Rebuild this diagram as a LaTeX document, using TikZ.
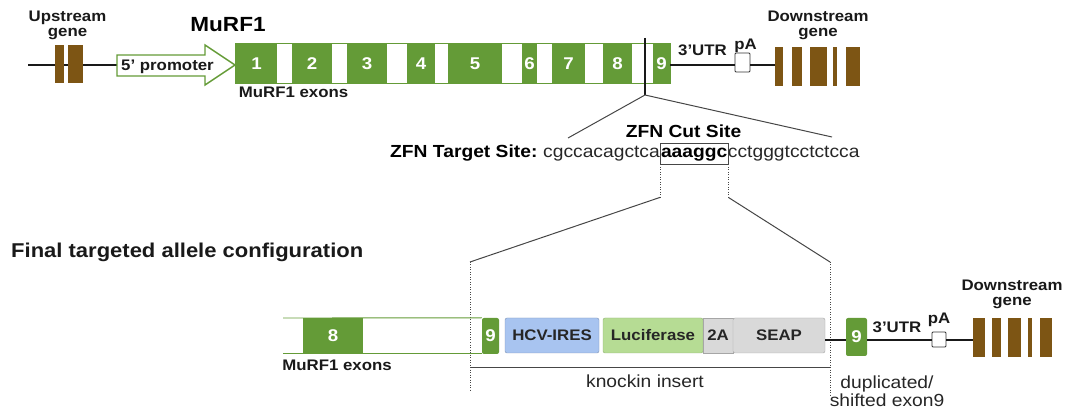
\documentclass[tikz,border=0pt]{standalone}
\usepackage{fontspec}
\setmainfont[FakeStretch=1.1]{Liberation Sans}
\definecolor{exg}{RGB}{100,155,55}
\definecolor{brn}{RGB}{125,85,20}
\definecolor{ires}{RGB}{168,196,240}
\definecolor{luc}{RGB}{182,220,148}
\definecolor{gry}{RGB}{217,217,217}
\definecolor{lin}{RGB}{70,70,70}
\begin{document}
\begin{tikzpicture}[x=1pt,y=-1pt,
  exon/.style={fill=exg, draw=none, inner sep=0, text=white, font=\bfseries\fontsize{17}{19}\selectfont},
  bexon/.style={fill=brn, draw=none, inner sep=0},
  lbl/.style={font=\bfseries\fontsize{15.3}{15}\selectfont, inner sep=0, text=black!90},
  reg/.style={font=\fontsize{17.5}{18}\selectfont, inner sep=0, text=black!85},
  seqb/.style={font=\bfseries\fontsize{17.5}{18}\selectfont, inner sep=0},
  seq/.style={font=\fontsize{17.5}{18}\selectfont, inner sep=0, text=black!85},
  insbox/.style={rounded corners=2pt, inner sep=0, font=\bfseries\fontsize{15.3}{16}\selectfont, text=black!85, minimum height=35},
  pabox/.style={draw=black!80, fill=white, line width=0.9, inner sep=0, rounded corners=1pt},
  dna/.style={draw=black!90, line width=1.4},
  diag/.style={draw=lin, line width=1},
  dots/.style={draw=lin, line width=0.9, dash pattern=on 1pt off 1.5pt},
  gline/.style={draw=exg, line width=0.9}]
\useasboundingbox (0,0) rectangle (1065,411);

% ---------- top row ----------
\coordinate (tl) at (28,65);
\coordinate (ptail) at (117,65);
\draw[dna] (tl) -- (ptail);
\node[bexon, minimum width=9, minimum height=38] (u1) at (59.5,64) {};
\node[bexon, minimum width=15, minimum height=38] (u2) at (75.5,64) {};
\node[lbl, align=center, anchor=north] (upl) at (67.5,11) {Upstream\\gene};

% promoter arrow
\draw[draw=exg, fill=white, line width=1.4] (117,55) -- (205,55) -- (205,45) -- (235,65) -- (205,85) -- (205,76) -- (117,76) -- cycle;
\node[lbl, anchor=base] (prom) at (167.5,70.5) {5' promoter};
\node[font=\bfseries\fontsize{20.5}{22}\selectfont, inner sep=0, anchor=base] (title) at (228,32) {MuRF1};

% exons
\node[exon, minimum width=41, minimum height=39] (e1) at (256.5,63.5) {1};
\node[exon, minimum width=40, minimum height=39] (e2) at (312,63.5) {2};
\node[exon, minimum width=40, minimum height=39] (e3) at (367,63.5) {3};
\node[exon, minimum width=28, minimum height=39] (e4) at (421,63.5) {4};
\node[exon, minimum width=54, minimum height=39] (e5) at (475,63.5) {5};
\node[exon, minimum width=15, minimum height=39] (e6) at (529.5,63.5) {6};
\node[exon, minimum width=33, minimum height=39] (e7) at (568.5,63.5) {7};
\node[exon, minimum width=29, minimum height=39] (e8) at (617.5,63.5) {8};
\node[exon, minimum width=17, minimum height=39] (e9) at (661.5,63.5) {9};
\draw[gline] (e1.north west) rectangle (e9.south east);
\node[lbl, anchor=base] (mex) at (293.5,97.5) {MuRF1 exons};

% 3' side
\node[pabox, minimum width=15, minimum height=19] (pa) at (742.5,62.5) {};
\node[bexon, minimum width=8, minimum height=39] (d1) at (779,66.5) {};
\node[bexon, minimum width=10, minimum height=39] (d2) at (797,66.5) {};
\node[bexon, minimum width=17, minimum height=39] (d3) at (818.5,66.5) {};
\node[bexon, minimum width=4, minimum height=39] (d4) at (835,66.5) {};
\node[bexon, minimum width=14, minimum height=39] (d5) at (853,66.5) {};
\draw[dna] (e9.east |- 0,65) -- (pa.west |- 0,65);
\draw[dna] (pa.east |- 0,65) -- (d1.west |- 0,65);
\node[lbl, anchor=base] (utr) at (702.5,55.5) {3'UTR};
\node[lbl, anchor=base] (pal) at (745.5,49.5) {pA};
\node[lbl, align=center, anchor=north] (dnl) at (818,11) {Downstream\\gene};

% cut site
\coordinate (ctop) at (645,38);
\coordinate (cbot) at (645,95);
\coordinate (zl) at (568,138);
\coordinate (zr) at (832,137);
\draw[dna, line width=1.2] (ctop) -- (cbot);
\draw[diag] (cbot) -- (zl);
\draw[diag] (cbot) -- (zr);

\node[seqb, anchor=base] (cuts) at (683.5,137.5) {ZFN Cut Site};
\node[seqb, anchor=base west] (zt) at (390,157.5) {ZFN Target Site:};
\node[seq, anchor=base west] (s1) at (zt.base east) {\ cgccacagctca};
\node[seqb, anchor=base west, draw=lin, line width=0.8, inner xsep=0.6pt, inner ysep=2.5pt, text height=12pt, text depth=4pt] (cut) at (s1.base east) {aaaggc};
\node[seq, anchor=base west] (s3) at ([xshift=-0.6pt]cut.base east) {cctgggtcctctcca};

\draw[dots] (cut.south west) -- ++(0,33) coordinate (dl);
\draw[dots] (cut.south east) -- ++(0,33) coordinate (dr);
\coordinate (bl) at (470,262);
\coordinate (br) at (830,262);
\draw[diag] (dl) -- (bl);
\draw[diag] (dr) -- (br);
\coordinate (blb) at (470,390);
\coordinate (brb) at (830,395);
\draw[dots] (bl) -- (blb);
\draw[dots] (br) -- (brb);

\node[font=\bfseries\fontsize{20}{22}\selectfont, inner sep=0, anchor=base west, text=black!90] (final) at (11,258) {Final targeted allele configuration};

% ---------- bottom row ----------
\coordinate (gl1) at (283,318);
\coordinate (gl2) at (283,353);
\node[exon, minimum width=60, minimum height=35] (f8) at (333,335.5) {8};
\node[exon, minimum width=17, minimum height=36, rounded corners=2pt] (f9) at (490.5,336) {9};
\draw[gline] (gl1) -- (f9.north west);
\draw[gline] (gl2) -- (f9.south west |- gl2);
\node[lbl, anchor=base] (mex2) at (337,370.5) {MuRF1 exons};

\node[insbox, fill=ires, draw=ires!75!black, minimum width=94] (hcv) at (552,335.5) {HCV-IRES};
\node[insbox, fill=luc, draw=luc!80!black, minimum width=100] (lucb) at (653,335.5) {Luciferase};
\node[insbox, fill=gry, draw=black!35, minimum width=30, rounded corners=0pt] (t2a) at (718,335.5) {2A};
\node[insbox, fill=gry, draw=black!35, minimum width=92] (seap) at (779,335.5) {SEAP};

\node[exon, minimum width=21, minimum height=38, rounded corners=2pt] (g9) at (856.5,337) {9};
\node[pabox, minimum width=14, minimum height=15] (pa2) at (939,339.5) {};
\node[bexon, minimum width=12, minimum height=39] (h1) at (979,337.5) {};
\node[bexon, minimum width=9, minimum height=39] (h2) at (996.5,337.5) {};
\node[bexon, minimum width=13, minimum height=39] (h3) at (1014.5,337.5) {};
\node[bexon, minimum width=4, minimum height=39] (h4) at (1030,337.5) {};
\node[bexon, minimum width=12, minimum height=39] (h5) at (1046,337.5) {};
\draw[dna] (seap.east |- 0,340) -- (g9.west |- 0,340);
\draw[dna] (g9.east |- 0,340) -- (pa2.west |- 0,340);
\draw[dna] (pa2.east |- 0,340) -- (h1.west |- 0,340);
\node[lbl, anchor=base] (utr2) at (897,332.5) {3'UTR};
\node[lbl, anchor=base] (pa2l) at (939,323.5) {pA};
\node[lbl, align=center, anchor=north] (dn2) at (1012,280) {Downstream\\gene};

\draw[diag] (bl |- 0,367) -- (br |- 0,367);
\node[reg, anchor=base] (ki) at (645,388) {knockin insert};
\node[reg, align=center, anchor=north] (dup) at (887,376) {duplicated/\\shifted exon9};
\end{tikzpicture}
\end{document}
